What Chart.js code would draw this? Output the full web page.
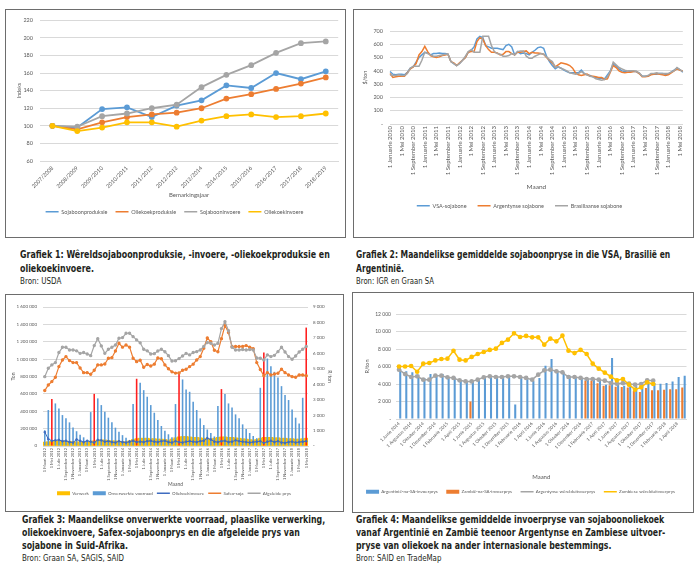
<!DOCTYPE html>
<html lang="af">
<head>
<meta charset="utf-8">
<title>Sojabone: produksie, pryse en voorraad</title>
<script src="https://cdn.jsdelivr.net/npm/chart.js@4.4.1/dist/chart.umd.min.js"></script>
<style>
  html, body { margin: 0; padding: 0; background: #fff; }
  body { position: relative; width: 700px; height: 566px; overflow: hidden; }
  .box { position: absolute; box-sizing: border-box; border: 1px solid #6d6d6d; }
  canvas { position: absolute; }
  .cap { position: absolute; font-family: "DejaVu Sans Condensed", "Liberation Sans", sans-serif; color: #231f20; white-space: nowrap; transform-origin: left top; }
  .cap b { display: block; font-weight: bold; font-size: 10.5px; line-height: 14px; }
  .cap.tight b { line-height: 13px; }
  .cap span { display: block; font-size: 9.5px; line-height: 11px; }
</style>
</head>
<body>

<div class="box" style="left:5px;top:9px;width:341px;height:229px"></div>
<div class="box" style="left:353px;top:9px;width:341px;height:229px"></div>
<div class="box" style="left:5px;top:294px;width:339px;height:218px"></div>
<div class="box" style="left:352px;top:292px;width:342px;height:221px"></div>

<canvas id="grafiek1" width="338" height="226" style="left:6px;top:10px"></canvas>
<canvas id="grafiek2" width="338" height="226" style="left:354px;top:10px"></canvas>
<canvas id="grafiek3" width="336" height="215" style="left:6px;top:295px"></canvas>
<canvas id="grafiek4" width="339" height="218" style="left:353px;top:293px"></canvas>

<div class="cap" data-breedte="310" style="left:20px;top:247px">
  <b>Grafiek 1: Wêreldsojaboonproduksie, -invoere, -oliekoekproduksie en<br>oliekoekinvoere.</b>
  <span>Bron: USDA</span>
</div>
<div class="cap" data-breedte="314" style="left:356px;top:247px">
  <b>Grafiek 2: Maandelikse gemiddelde sojaboonpryse in die VSA, Brasilië en<br>Argentinië.</b>
  <span>Bron: IGR en Graan SA</span>
</div>
<div class="cap tight" data-breedte="303" style="left:22px;top:513px">
  <b>Grafiek 3: Maandelikse onverwerkte voorraad, plaaslike verwerking,<br>oliekoekinvoere, Safex-sojaboonprys en die afgeleide prys van<br>sojabone in Suid-Afrika.</b>
  <span>Bron: Graan SA, SAGIS, SAID</span>
</div>
<div class="cap tight" data-breedte="309" style="left:356px;top:513px">
  <b>Grafiek 4: Maandelikse gemiddelde invoerpryse van sojaboonoliekoek<br>vanaf Argentinië en Zambië teenoor Argentynse en Zambiese uitvoer-<br>pryse van oliekoek na ander internasionale bestemmings.</b>
  <span>Bron: SAID en TradeMap</span>
</div>

<script>
// ---- Grafiek 1: indeks (2007/2008 = 100)
const bemarkingsjare = ['2007/2008', '2008/2009', '2009/2010', '2010/2011', '2011/2012', '2012/2013',
  '2013/2014', '2014/2015', '2015/2016', '2016/2017', '2017/2018', '2018/2019'];
const sojaboonProduksie = [100, 98, 119, 121, 110, 123, 129, 146, 143, 160, 153, 162];
const oliekoekProduksie = [100, 96, 104, 110, 113, 115, 120, 131, 136, 142, 148, 155];
const sojaboonInvoere = [100, 99, 111, 114, 120, 124, 144, 158, 169, 183, 194, 196];
const oliekoekInvoere = [100, 94, 98, 104, 104, 99, 106, 111, 113, 110, 111, 114];

// ---- Grafiek 2: $/ton, Januarie 2010 tot Junie 2018
const vsaSojabone = [
  395, 375, 370, 375, 375, 370, 390, 420, 430, 465, 500, 520,
  540, 535, 520, 530, 530, 535, 530, 530, 525, 470, 455, 440,
  455, 480, 500, 540, 555, 580, 640, 660, 650, 590, 580, 570,
  570, 570, 565, 560, 590, 600, 580, 520, 545, 530, 535, 530,
  520, 540, 555, 575, 580, 570, 510, 470, 440, 415, 430, 420,
  405, 395, 385, 385, 385, 385, 405, 380, 370, 365, 355, 350,
  345, 345, 340, 370, 400, 450, 435, 415, 400, 395, 390, 395,
  395, 395, 380, 360, 360, 360, 375, 375, 375, 380, 380, 375,
  375, 390, 405, 420, 410, 390];
const argentynseSojabone = [
  380, 350, 355, 360, 360, 360, 385, 415, 430, 455, 520, 545,
  585, 545, 515, 505, 500, 505, 515, 520, 525, 470, 460, 440,
  460, 480, 500, 540, 545, 545, 620, 650, 640, 590, 560, 540,
  540, 535, 520, 525, 545, 545, 530, 520, 540, 540, 545, 550,
  530, 540, 535, 535, 530, 525, 500, 480, 460, 430, 445, 460,
  455, 450, 440, 420, 385, 370, 365, 370, 375, 360, 360, 355,
  350, 350, 335, 340, 390, 440, 425, 400, 390, 385, 390, 390,
  395, 395, 380, 355, 355, 360, 370, 375, 380, 375, 370, 365,
  370, 385, 400, 415, 405, 400];
const brasiliaanseSojabone = [
  370, 365, 365, 370, 365, 365, 380, 420, 435, 435, 435, 480,
  540, 530, 520, 510, 510, 515, 520, 525, 525, 470, 455, 440,
  455, 480, 510, 545, 560, 540, 540, 540, 660, 660, 660, 590,
  545, 530, 525, 510, 510, 515, 530, 520, 545, 550, 550, 510,
  495, 495, 510, 520, 530, 525, 505, 485, 470, 430, 430, 420,
  410, 400, 385, 380, 375, 380, 395, 380, 370, 360, 355, 340,
  335, 330, 335, 355, 395, 465, 445, 425, 415, 405, 400, 400,
  400, 395, 385, 360, 360, 365, 380, 380, 385, 380, 380, 380,
  380, 390, 400, 425, 410, 395];

// ---- Grafiek 3: Maart 2012 tot Mei 2018 (ton en R/ton)
const verwerk = [
  45000, 50000, 55000, 55000, 60000, 60000, 55000, 55000, 50000, 50000, 45000, 45000,
  50000, 55000, 60000, 65000, 70000, 70000, 65000, 60000, 60000, 55000, 50000, 50000,
  60000, 75000, 85000, 90000, 90000, 90000, 85000, 85000, 80000, 80000, 75000, 70000,
  80000, 95000, 105000, 110000, 110000, 105000, 100000, 100000, 95000, 90000, 85000, 80000,
  90000, 100000, 105000, 105000, 100000, 100000, 95000, 90000, 85000, 80000, 75000, 70000,
  75000, 90000, 100000, 100000, 100000, 95000, 95000, 90000, 90000, 85000, 85000, 80000, 80000, 85000, 90000];
const onverwerkteVoorraad = [
  180000, 414000, 540000, 490000, 433000, 356000, 318000, 272000, 214000, 170000, 130000, 100000, 70000,
  390000, 600000, 548000, 471000, 394000, 326000, 272000, 211000, 165000, 125000, 95000, 70000,
  483000, 774000, 728000, 643000, 567000, 471000, 383000, 299000, 230000, 175000, 135000, 100000,
  483000, 830000, 766000, 651000, 624000, 509000, 414000, 318000, 241000, 190000, 150000, 110000,
  460000, 655000, 598000, 490000, 444000, 364000, 318000, 249000, 195000, 150000, 115000, 90000,
  670000, 1076000, 1007000, 919000, 854000, 789000, 689000, 586000, 529000, 421000, 326000, 260000, 555000, 1363000];
const oliekoekInvoereSA = [
  160000, 80000, 60000, 65000, 70000, 55000, 60000, 45000, 40000, 75000, 60000, 45000,
  60000, 50000, 40000, 70000, 65000, 50000, 55000, 45000, 40000, 55000, 45000, 40000,
  50000, 60000, 45000, 50000, 45000, 55000, 60000, 50000, 45000, 55000, 60000, 45000,
  40000, 55000, 45000, 40000, 50000, 55000, 50000, 45000, 55000, 60000, 90000, 75000,
  50000, 45000, 55000, 60000, 45000, 50000, 65000, 55000, 50000, 45000, 40000, 45000,
  50000, 55000, 35000, 50000, 60000, 45000, 55000, 40000, 35000, 45000, 50000, 40000, 45000, 50000, 55000];
const safexSoja = [
  3590, 3950, 4170, 4450, 5140, 5570, 5790, 5530, 5400, 5400, 5050, 4750,
  4750, 4650, 4900, 5250, 5250, 5310, 5680, 5720, 6150, 6650, 6400, 6540,
  6400, 5680, 5460, 5550, 5100, 5280, 5180, 5300, 5700, 5650, 5250, 5000,
  4800, 4720, 4730, 4900, 4970, 5140, 5300, 5570, 5790, 6330, 7000, 6750,
  6200, 6100, 6950, 7800, 7350, 6440, 6440, 6440, 6450, 6500, 6400, 6300,
  5400, 4950, 4550, 4750, 4600, 4660, 4710, 4970, 4750, 4600, 4490, 4450, 4600, 4600, 4550];
const afgeleidePrys = [
  4490, 5030, 5250, 5400, 6050, 6390, 6390, 6220, 6220, 6160, 6000, 6050,
  5960, 5850, 6500, 6950, 6480, 6000, 6260, 6390, 6540, 6980, 7020, 7300,
  7300, 7080, 6870, 6680, 6260, 6160, 5960, 5980, 6150, 6260, 6100, 5850,
  5500, 5520, 5660, 5830, 6000, 5900, 6050, 6110, 6220, 6450, 6700, 6650,
  6540, 6650, 7600, 8050, 7470, 6390, 6220, 6220, 6250, 6220, 6250, 6220,
  5700, 5680, 5570, 5900, 5790, 5870, 6110, 6390, 6090, 5790, 5620, 5830, 6090, 6260, 6450];

// ---- Grafiek 4: R/ton, Junie 2014 tot Mei 2018
const argentinieNaSA = [
  5700, 5450, 5330, 5070, 4690, 5140, 5070, 5140, 4800, 4760, 4500, 4300,
  4350, 4420, 4690, 4760, 4690, 4760, 4800, 1650, 4800, 4570, 4380, 4690,
  6100, 6860, 5520, 5330, 4950, 4800, 4690, 4570, 4500, 4380, 3920, 6970,
  4000, 3810, 4000, 3730, 3920, 4110, 4110, 4040, 4110, 4300, 4800, 4950];
const zambieNaSA = [
  null, null, null, null, null, null, null, null, null, null, null, null,
  2000, null, null, null, null, null, null, null, null, null, null, null,
  null, null, null, null, null, null, null, 4400, 4400, 4100, 3800, 3850,
  3700, 3650, 3600, 3200, 3100, 3550, 3300, 3300, 3350, 3400, 3400, 3600];
const argentynseUitvoer = [
  5640, 5140, 4800, 4880, 4500, 4500, 4950, 4950, 4760, 4690, 4420, 4300,
  4300, 4500, 4760, 4880, 4800, 4800, 4880, 4880, 4800, 4690, 4500, 5070,
  5560, 5640, 5450, 5330, 4800, 4800, 4690, 4570, 4570, 4500, 4380, 4110,
  4040, 4110, 4040, 3920, 4000, 4420, 4380, null, null, null, null, null];
const zambieseUitvoer = [
  6000, 6000, 6060, 5400, 6320, 6400, 6700, 6860, 6900, 7800, 6780, 6700,
  7090, 7430, 7660, 7890, 8040, 8690, 9070, 9790, 9370, 9490, 9330, 9330,
  8500, 9180, 8880, 9520, 7810, 7540, 7890, 7430, 6320, 5750, 5300, 4840,
  4420, 4570, 3920, 3350, 3620, 4190, 4000, null, null, null, null, null];

const MAANDE = ['Januarie', 'Februarie', 'Maart', 'April', 'Mei', 'Junie', 'Julie',
  'Augustus', 'September', 'Oktober', 'November', 'Desember'];

function maandLabels(jaar, maand, n) {
  const out = [];
  for (let i = 0; i < n; i++) {
    out.push('1 ' + MAANDE[(maand + i) % 12] + ' ' + (jaar + Math.floor((maand + i) / 12)));
  }
  return out;
}
const maande2 = maandLabels(2010, 0, vsaSojabone.length);
const maande3 = maandLabels(2012, 2, onverwerkteVoorraad.length);
const maande4 = maandLabels(2014, 5, argentinieNaSA.length);

const BLOU = '#5b9bd5', ORANJE = '#ed7d31', GRYS = '#a5a5a5', GEEL = '#ffc000';
const DONKERBLOU = '#3f6cc0', ROOI = '#ff1f1f', ROOSTER = '#d9d9d9';

Chart.defaults.font.family = 'Lato, "Liberation Sans", sans-serif';
Chart.defaults.color = '#595959';

// no narrow font on the box, so squeeze the captions to the width of the original
document.querySelectorAll('.cap').forEach(cap => {
  const k = Number(cap.dataset.breedte) / cap.scrollWidth;
  cap.style.transform = 'scaleX(' + k.toFixed(3) + ')';
});

function spasies(v) { return String(v).replace(/\B(?=(\d{3})+(?!\d))/g, ' '); }
function strepieNul(v) { return v === 0 ? '-' : spasies(v); }
function elkeN(n) {
  return function (value, index) { return index % n === 0 ? this.getLabelForValue(value) : ''; };
}

// legend: lines as a short stroke, bars as a small block
function legendItems(chart) {
  const items = Chart.defaults.plugins.legend.labels.generateLabels(chart);
  items.forEach(it => {
    const ds = chart.data.datasets[it.datasetIndex];
    const isLine = (ds.type || chart.config.type) === 'line';
    it.pointStyle = isLine ? 'line' : 'rect';
    if (isLine) { it.strokeStyle = ds.borderColor; it.lineWidth = 1.5; }
    else { it.lineWidth = 0; }
  });
  return items;
}
function legend(size, pad, boxH) {
  return {
    position: 'bottom',
    labels: {
      usePointStyle: true, pointStyleWidth: 13, boxHeight: boxH, padding: pad,
      font: { size: size }, color: '#595959',
      generateLabels: legendItems,
      sort: (a, b) => a.datasetIndex - b.datasetIndex
    }
  };
}

function lyn(label, data, kleur, order, extra) {
  return Object.assign({
    type: 'line', label: label, data: data, order: order,
    borderColor: kleur, backgroundColor: kleur, pointBackgroundColor: kleur, pointBorderColor: kleur,
    borderWidth: 1.5, pointRadius: 0, tension: 0
  }, extra || {});
}

// ---------- Grafiek 1
new Chart(document.getElementById('grafiek1'), {
  type: 'line',
  data: {
    labels: bemarkingsjare,
    datasets: [
      lyn('Sojaboonproduksie', sojaboonProduksie, BLOU, 3, { pointRadius: 2, borderWidth: 1.8 }),
      lyn('Oliekoekproduksie', oliekoekProduksie, ORANJE, 2, { pointRadius: 2, borderWidth: 1.8 }),
      lyn('Sojabooninvoere', sojaboonInvoere, GRYS, 1, { pointRadius: 2, borderWidth: 1.8 }),
      lyn('Oliekoekinvoere', oliekoekInvoere, GEEL, 0, { pointRadius: 2, borderWidth: 1.8 })
    ]
  },
  options: {
    responsive: false, animation: false,
    layout: { padding: { top: 10, right: 1, bottom: 11.5, left: 0 } },
    plugins: { legend: legend(5.5, 8, 5.5), tooltip: { enabled: false } },
    scales: {
      x: {
        offset: true,
        grid: { display: false, drawTicks: false },
        border: { color: ROOSTER },
        ticks: { minRotation: 45, maxRotation: 45, padding: 4, font: { size: 5.5 } },
        title: { display: true, text: 'Bemarkingsjaar', font: { size: 6 }, padding: { top: 0, bottom: 2.4 } },
        afterFit: s => { s.height = 40; }
      },
      y: {
        min: 60, max: 220,
        ticks: { stepSize: 20, padding: 7, font: { size: 5.5 } },
        grid: { color: ROOSTER, drawTicks: false },
        border: { display: false },
        title: { display: true, text: 'Indeks', font: { size: 5.5 }, padding: { top: 10, bottom: 0 } },
        afterFit: s => { s.width = 34; }
      }
    }
  }
});

// ---------- Grafiek 2
new Chart(document.getElementById('grafiek2'), {
  type: 'line',
  data: {
    labels: maande2,
    datasets: [
      lyn('VSA-sojabone', vsaSojabone, BLOU, 2),
      lyn('Argentynse sojabone', argentynseSojabone, ORANJE, 1),
      lyn('Brasiliaanse sojabone', brasiliaanseSojabone, GRYS, 0)
    ]
  },
  options: {
    responsive: false, animation: false,
    layout: { padding: { top: 21, right: 7, bottom: 17.5, left: 0 } },
    plugins: { legend: legend(5.5, 11, 5.5), tooltip: { enabled: false } },
    scales: {
      x: {
        grid: { display: false, drawTicks: false },
        border: { color: ROOSTER },
        ticks: { autoSkip: false, minRotation: 90, maxRotation: 90, padding: 2, font: { size: 6 }, callback: elkeN(4) },
        title: { display: true, text: 'Maand', font: { size: 6.5 }, padding: { top: 0, bottom: 1.1 } },
        afterFit: s => { s.height = 68; }
      },
      y: {
        min: 0, max: 700,
        ticks: { stepSize: 100, padding: 7, font: { size: 5.5 }, callback: v => v === 0 ? '-' : v },
        grid: { color: ROOSTER, drawTicks: false },
        border: { display: false },
        title: { display: true, text: '$/ton', font: { size: 5.5 }, padding: { top: 7.7, bottom: 0 } },
        afterFit: s => { s.width = 36; }
      }
    }
  }
});

// ---------- Grafiek 3
new Chart(document.getElementById('grafiek3'), {
  type: 'bar',
  data: {
    labels: maande3,
    datasets: [
      { type: 'bar', label: 'Verwerk', data: verwerk, yAxisID: 'y', order: 4,
        backgroundColor: GEEL, barPercentage: 1, categoryPercentage: 1 },
      { type: 'bar', label: 'Onverwerkte voorraad', data: onverwerkteVoorraad, yAxisID: 'y', order: 3,
        backgroundColor: c => (maande3[c.dataIndex] || '').indexOf(' Mei ') > -1 ? ROOI : BLOU,
        barPercentage: 0.45, categoryPercentage: 1 },
      lyn('Oliekoekinvoere', oliekoekInvoereSA, DONKERBLOU, 2, { yAxisID: 'y', borderWidth: 1, pointRadius: 0.9 }),
      lyn('Safex-soja', safexSoja, ORANJE, 1, { yAxisID: 'y1', borderWidth: 1.2, pointRadius: 1.1 }),
      lyn('Afgeleide prys', afgeleidePrys, GRYS, 0, { yAxisID: 'y1', borderWidth: 1.2, pointRadius: 1.1 })
    ]
  },
  options: {
    responsive: false, animation: false,
    layout: { padding: { top: 12, right: 0, bottom: 4.5, left: 0 } },
    plugins: { legend: legend(4.5, 4, 4), tooltip: { enabled: false } },
    scales: {
      x: {
        stacked: true,
        grid: { display: false, drawTicks: false },
        border: { color: ROOSTER },
        ticks: { autoSkip: false, minRotation: 90, maxRotation: 90, padding: 2, font: { size: 4 }, callback: elkeN(2) },
        title: { display: true, text: 'Maand', font: { size: 5 }, padding: { top: 0, bottom: 0 } },
        afterFit: s => { s.height = 41; }
      },
      y: {
        position: 'left', min: 0, max: 1600000,
        ticks: { stepSize: 200000, padding: 6, font: { size: 4.5 }, callback: spasies },
        grid: { color: ROOSTER, drawTicks: false },
        border: { display: false },
        title: { display: true, text: 'Ton', font: { size: 5 }, padding: { top: 4, bottom: 0 } },
        afterFit: s => { s.width = 37; }
      },
      y1: {
        position: 'right', min: 0, max: 9000,
        ticks: { stepSize: 1000, padding: 5, font: { size: 4.5 }, callback: strepieNul },
        grid: { display: false, drawTicks: false },
        border: { display: false },
        title: { display: true, text: 'R/ton', font: { size: 5 }, padding: { top: 9, bottom: 0 } },
        afterFit: s => { s.width = 34; }
      }
    }
  }
});

// ---------- Grafiek 4
new Chart(document.getElementById('grafiek4'), {
  type: 'bar',
  data: {
    labels: maande4,
    datasets: [
      { type: 'bar', label: 'Argentinië-na-SA-invoerprys', data: argentinieNaSA, order: 3,
        backgroundColor: BLOU, barPercentage: 0.85, categoryPercentage: 0.8 },
      { type: 'bar', label: 'Zambië-na-SA-invoerprys', data: zambieNaSA, order: 2,
        backgroundColor: ORANJE, barPercentage: 0.85, categoryPercentage: 0.8 },
      lyn('Argentynse wêrelduitvoerprys', argentynseUitvoer, GRYS, 1, { borderWidth: 1.5, pointRadius: 1.6 }),
      lyn('Zambiese wêrelduitvoerprys', zambieseUitvoer, GEEL, 0, { borderWidth: 1.5, pointRadius: 1.6 })
    ]
  },
  options: {
    responsive: false, animation: false,
    layout: { padding: { top: 21, right: 4, bottom: 7, left: 0 } },
    plugins: { legend: legend(4.5, 8.5, 4), tooltip: { enabled: false } },
    scales: {
      x: {
        grid: { display: false, drawTicks: false },
        border: { color: ROOSTER },
        ticks: { autoSkip: false, minRotation: 45, maxRotation: 45, padding: 2, font: { size: 4.5 }, callback: elkeN(2) },
        title: { display: true, text: 'Maand', font: { size: 6 }, padding: { top: 0, bottom: 0.4 } },
        afterFit: s => { s.height = 62; }
      },
      y: {
        min: 0, max: 12000,
        ticks: { stepSize: 2000, padding: 5, font: { size: 5 }, callback: strepieNul },
        grid: { color: ROOSTER, drawTicks: false },
        border: { display: false },
        title: { display: true, text: 'R/ton', font: { size: 5.5 }, padding: { top: 10.7, bottom: 0 } },
        afterFit: s => { s.width = 43; }
      }
    }
  }
});
</script>
</body>
</html>
